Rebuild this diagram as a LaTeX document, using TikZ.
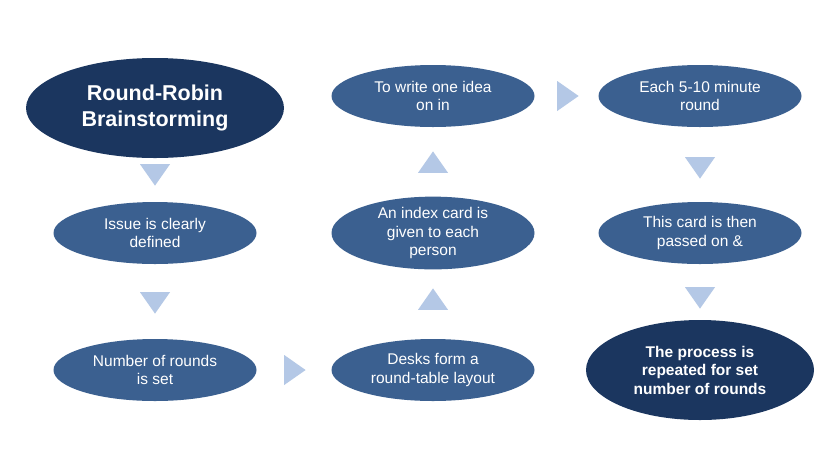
\documentclass[tikz,border=0pt]{standalone}
\usepackage{fontspec}
\setmainfont{Liberation Sans}
\usetikzlibrary{shapes.geometric}
\definecolor{navy}{HTML}{1B365F}
\definecolor{midblue}{HTML}{3B6090}
\definecolor{paleblue}{HTML}{B4C8E6}
\tikzset{
  stage/.style={ellipse,fill=midblue,text=white,minimum width=203pt,minimum height=62pt,inner sep=0pt,align=center,font=\fontsize{15.5}{18.5}\selectfont},
  bigstage/.style={ellipse,fill=navy,text=white,inner sep=0pt,align=center,font=\bfseries},
  tri/.style={isosceles triangle,isosceles triangle apex angle=70,fill=paleblue,inner sep=0pt,minimum height=20pt,minimum width=30pt}
}
\begin{document}
\begin{tikzpicture}[x=1pt,y=-1pt]
\useasboundingbox[fill=white] (0,0) rectangle (840,451);
\node[bigstage,minimum width=258pt,minimum height=100pt,font=\fontsize{21.5}{26}\selectfont\bfseries](title) at (155,108){Round-Robin\\Brainstorming};
\node[stage](issue) at (155,233){Issue is clearly\\defined};
\node[stage](rounds) at (155,370){Number of rounds\\is set};
\node[stage](desks) at (433,370){Desks form a\\round-table layout};
\node[stage](card) at (433,233){An index card is\\given to each\\person};
\node[stage](write) at (433,96){To write one idea\\on in};
\node[stage](each) at (700,96){Each 5-10 minute\\round};
\node[stage](pass) at (700,233){This card is then\\passed on \&};
\node[bigstage,minimum width=228pt,minimum height=100pt,font=\fontsize{15.5}{18.5}\selectfont\bfseries](repeat) at (700,370){The process is\\repeated for set\\number of rounds};

\node[tri,shape border rotate=-90](t1) at (155,172){};
\node[tri,shape border rotate=-90](t2) at (155,300){};
\node[tri](t3) at (292,370){};
\node[tri,shape border rotate=90](t4) at (433,302){};
\node[tri,shape border rotate=90](t5) at (433,165){};
\node[tri](t6) at (565,96){};
\node[tri,shape border rotate=-90](t7) at (700,165){};
\node[tri,shape border rotate=-90](t8) at (700,295){};
\end{tikzpicture}
\end{document}
